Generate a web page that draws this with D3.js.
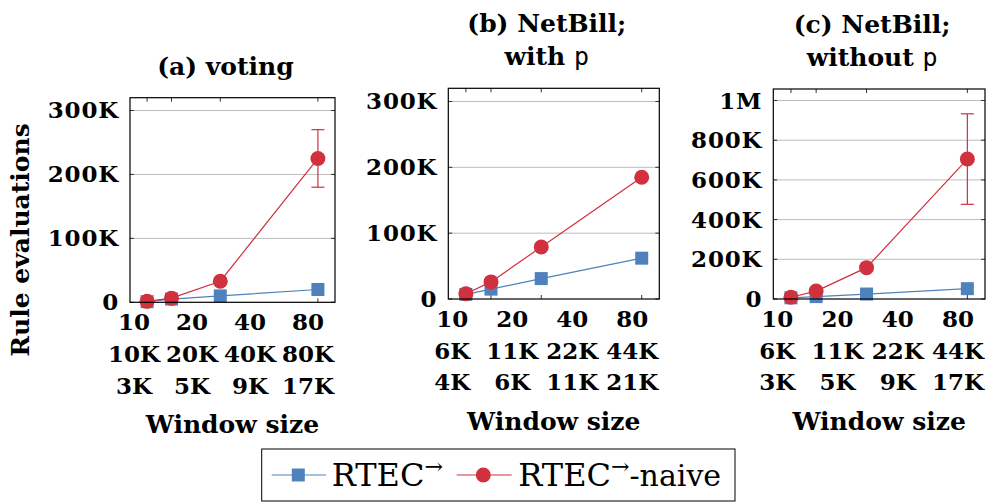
<!DOCTYPE html>
<html>
<head>
<meta charset="utf-8">
<script src="https://cdn.jsdelivr.net/npm/d3@7"></script>
<style>
  body { margin: 0; background: #fff; }
  svg { display: block; }
  text { font-family: "DejaVu Serif", serif; fill: #000; }
  .bold { font-weight: bold; }
</style>
</head>
<body>
<svg id="chart" width="987" height="503"></svg>
<script>
'use strict';

var windowSizes = [10, 20, 40, 80];

var votingRtec = [1000, 5000, 10000, 20000];
var votingNaive = [1500, 6500, 33000, 225000];
var votingNaiveErr = [null, null, null, [180000, 270000]];
var votingRow2 = ['10K', '20K', '40K', '80K'];
var votingRow3 = ['3K', '5K', '9K', '17K'];
var votingYTicks = [0, 100000, 200000, 300000];

var withPRtec = [7000, 15000, 31000, 62000];
var withPNaive = [8000, 26000, 79000, 185000];
var withPNaiveErr = [null, null, null, null];
var withPRow2 = ['6K', '11K', '22K', '44K'];
var withPRow3 = ['4K', '6K', '11K', '21K'];
var withPYTicks = [0, 100000, 200000, 300000];

var withoutPRtec = [6000, 12000, 25000, 52000];
var withoutPNaive = [9000, 40000, 158000, 705000];
var withoutPNaiveErr = [null, null, null, [477000, 933000]];
var withoutPRow2 = ['6K', '11K', '22K', '44K'];
var withoutPRow3 = ['3K', '5K', '9K', '17K'];
var withoutPYTicks = [0, 200000, 400000, 600000, 800000, 1000000];

var blue = '#4f81bd';
var red = '#d1303f';

function fmtK(v) {
    if (v >= 1e6) return (v / 1e6) + 'M';
    if (v >= 1000) return (v / 1000) + 'K';
    return '' + v;
}

function panel() {
    var frame = {x0: 0, x1: 100, y0: 0, y1: 100};
    var yMax = 320000;

    function display(selection) {
        selection.each(function(data, i) {
            var g = d3.select(this);
            var x = d3.scaleLinear().domain([3, 87]).range([frame.x0, frame.x1]);
            var y = d3.scaleLinear().domain([0, yMax]).range([frame.y1, frame.y0]);
            var cx = (frame.x0 + frame.x1) / 2;

            // grid
            g.append('g').selectAll('line')
                .data(data.yTicks.filter(function(d) { return d > 0; }))
                .enter().append('line')
                .attr('x1', frame.x0).attr('x2', frame.x1)
                .attr('y1', function(d) { return y(d); })
                .attr('y2', function(d) { return y(d); })
                .style('stroke', '#bdbdbd').style('stroke-width', 1);

            // inner ticks
            var tk = g.append('g').style('stroke', '#333').style('stroke-width', 1);
            windowSizes.forEach(function(w) {
                tk.append('line').attr('x1', x(w)).attr('x2', x(w)).attr('y1', frame.y1).attr('y2', frame.y1 - 4);
                tk.append('line').attr('x1', x(w)).attr('x2', x(w)).attr('y1', frame.y0).attr('y2', frame.y0 + 4);
            });
            data.yTicks.forEach(function(t) {
                tk.append('line').attr('x1', frame.x0).attr('x2', frame.x0 + 4).attr('y1', y(t)).attr('y2', y(t));
                tk.append('line').attr('x1', frame.x1).attr('x2', frame.x1 - 4).attr('y1', y(t)).attr('y2', y(t));
            });

            // y labels
            g.append('g').selectAll('text')
                .data(data.yTicks)
                .enter().append('text')
                .attr('class', 'bold')
                .attr('x', frame.x0 - 11)
                .attr('y', function(d) { return y(d) + 8; })
                .attr('text-anchor', 'end')
                .style('font-size', '23px')
                .style('letter-spacing', '0.8px')
                .text(fmtK);

            // x label columns
            var col = d3.scalePoint().domain(windowSizes).range([frame.x0 + 4, frame.x1 - 27]);
            var rows = [windowSizes.map(String), data.row2, data.row3];
            rows.forEach(function(row, r) {
                g.append('g').selectAll('text')
                    .data(row)
                    .enter().append('text')
                    .attr('class', 'bold')
                    .attr('x', function(d, k) { return col(windowSizes[k]); })
                    .attr('y', frame.y1 + 28 + r * 31.7)
                    .attr('text-anchor', 'middle')
                    .style('font-size', '23px')
                    .text(function(d) { return d; });
            });

            g.append('text').attr('class', 'bold')
                .attr('x', cx).attr('y', frame.y1 + 131)
                .attr('text-anchor', 'middle').style('font-size', '25px')
                .text('Window size');

            // title
            data.title.forEach(function(line, k) {
                var t = g.append('text').attr('class', 'bold')
                    .attr('x', cx - 7)
                    .attr('y', frame.y0 - 23 - (data.title.length - 1 - k) * 33)
                    .attr('text-anchor', 'middle').style('font-size', '25px');
                var m = line.match(/^(.*) p$/);
                if (m) {
                    t.append('tspan').text(m[1] + ' ');
                    t.append('tspan').style('font-family', '"DejaVu Sans Mono", monospace')
                        .style('font-weight', 'normal').text('p');
                } else {
                    t.text(line);
                }
            });

            // series
            var line = d3.line()
                .x(function(d, k) { return x(windowSizes[k]); })
                .y(function(d) { return y(d); });

            g.append('path').datum(data.rtec).attr('d', line)
                .style('fill', 'none').style('stroke', blue).style('stroke-width', 1.2);
            g.append('g').selectAll('rect')
                .data(data.rtec)
                .enter().append('rect')
                .attr('x', function(d, k) { return x(windowSizes[k]) - 6.5; })
                .attr('y', function(d) { return y(d) - 6.5; })
                .attr('width', 13).attr('height', 13)
                .style('fill', blue);

            g.append('path').datum(data.naive).attr('d', line)
                .style('fill', 'none').style('stroke', red).style('stroke-width', 1.2);

            var err = g.append('g').style('stroke', red).style('stroke-width', 1.2);
            data.naiveErr.forEach(function(e, k) {
                if (!e) return;
                var ex = x(windowSizes[k]);
                err.append('line').attr('x1', ex).attr('x2', ex).attr('y1', y(e[0])).attr('y2', y(e[1]));
                err.append('line').attr('x1', ex - 6.5).attr('x2', ex + 6.5).attr('y1', y(e[0])).attr('y2', y(e[0]));
                err.append('line').attr('x1', ex - 6.5).attr('x2', ex + 6.5).attr('y1', y(e[1])).attr('y2', y(e[1]));
            });

            g.append('g').selectAll('circle')
                .data(data.naive)
                .enter().append('circle')
                .attr('cx', function(d, k) { return x(windowSizes[k]); })
                .attr('cy', function(d) { return y(d); })
                .attr('r', 7.5)
                .style('fill', red);

            // frame
            g.append('rect')
                .attr('x', frame.x0).attr('y', frame.y0)
                .attr('width', frame.x1 - frame.x0).attr('height', frame.y1 - frame.y0)
                .style('fill', 'none').style('stroke', '#000').style('stroke-width', 1.2);
        });
    }

    display.frame = function(value) {
        if (!arguments.length) return frame;
        frame = value;
        return display;
    };

    display.yMax = function(value) {
        if (!arguments.length) return yMax;
        yMax = value;
        return display;
    };

    return display;
}

var svg = d3.select('#chart');

svg.append('g')
    .datum({title: ['(a) voting'], rtec: votingRtec, naive: votingNaive, naiveErr: votingNaiveErr,
            row2: votingRow2, row3: votingRow3, yTicks: votingYTicks})
    .call(panel().frame({x0: 130, x1: 335, y0: 97.7, y1: 302.3}).yMax(320000));

svg.append('g')
    .datum({title: ['(b) NetBill;', 'with p'], rtec: withPRtec, naive: withPNaive, naiveErr: withPNaiveErr,
            row2: withPRow2, row3: withPRow3, yTicks: withPYTicks})
    .call(panel().frame({x0: 448.3, x1: 659.3, y0: 88.3, y1: 299}).yMax(320000));

svg.append('g')
    .datum({title: ['(c) NetBill;', 'without p'], rtec: withoutPRtec, naive: withoutPNaive, naiveErr: withoutPNaiveErr,
            row2: withoutPRow2, row3: withoutPRow3, yTicks: withoutPYTicks})
    .call(panel().frame({x0: 773.3, x1: 985, y0: 89, y1: 299}).yMax(1058000));

// y axis title
svg.append('text').attr('class', 'bold')
    .attr('transform', 'translate(29,240) rotate(-90)')
    .attr('text-anchor', 'middle').style('font-size', '25px')
    .text('Rule evaluations');

// legend
var lg = svg.append('g');
lg.append('rect').attr('x', 261.7).attr('y', 449).attr('width', 473.3).attr('height', 52)
    .style('fill', '#fff').style('stroke', '#000').style('stroke-width', 1);
lg.append('line').attr('x1', 271.7).attr('x2', 326).attr('y1', 475).attr('y2', 475)
    .style('stroke', blue).style('stroke-width', 1.2);
lg.append('rect').attr('x', 298.3 - 6.5).attr('y', 475 - 6.5).attr('width', 13).attr('height', 13)
    .style('fill', blue);
lg.append('line').attr('x1', 456.7).attr('x2', 511.7).attr('y1', 475).attr('y2', 475)
    .style('stroke', red).style('stroke-width', 1.2);
lg.append('circle').attr('cx', 483.3).attr('cy', 475).attr('r', 7.5).style('fill', red);

[{x: 331.7, suffix: ''}, {x: 518.3, suffix: '-naive'}].forEach(function(d) {
    var t = lg.append('text').attr('x', d.x).attr('y', 486).style('font-size', '32px');
    t.append('tspan').text('RTEC');
    t.append('tspan').attr('dy', -12).style('font-size', '22px').text('\u2192');
    if (d.suffix) t.append('tspan').attr('dy', 12).style('font-size', '30px').text(d.suffix);
});
</script>
</body>
</html>
